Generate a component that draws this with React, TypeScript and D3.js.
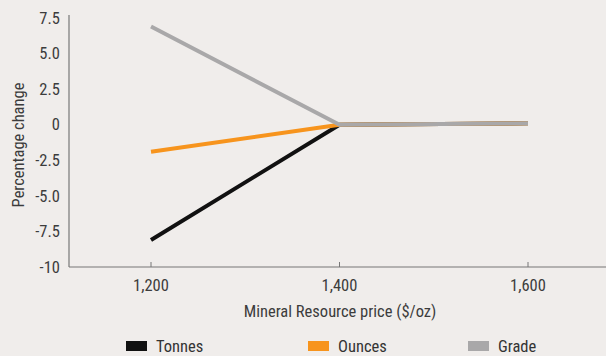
import React from "react";
import * as d3 from "d3";

const prices = [1200, 1400, 1600];
const tonnes = [-8.1, 0, 0.1];
const ounces = [-1.9, 0, 0.1];
const grade = [6.9, 0, 0.1];
const yTicks = [7.5, 5.0, 2.5, 0, -2.5, -5.0, -7.5, -10];
const yTickLabels = ["7.5", "5.0", "2.5", "0", "-2.5", "-5.0", "-7.5", "-10"];
const xTicks = [1200, 1400, 1600];
const xTickLabels = ["1,200", "1,400", "1,600"];

const seriesNames = ["Tonnes", "Ounces", "Grade"];
const seriesColors = ["#111111", "#f7941d", "#a9a8a9"];

const W = 606;
const H = 356;
const FONT = "'Liberation Sans Narrow', 'Roboto Condensed', 'Arial Narrow', 'Liberation Sans', sans-serif";
const FS = 16.5;

export default function App() {
  const x = d3.scaleLinear().domain([1200, 1600]).range([151, 528]);
  const y = d3.scaleLinear().domain([-10, 7.5]).range([267, 18]);
  const axisLeft = 69;
  const axisBottom = y(-10);

  const line = d3
    .line<[number, number]>()
    .x((d) => x(d[0]))
    .y((d) => y(d[1]));

  const series = [tonnes, ounces, grade];
  const legendX = [126, 308, 468];

  return (
    <svg
      width={W}
      height={H}
      style={{ position: "absolute", left: 0, top: 0, background: "#f0edeb" }}
    >
      <rect x={0} y={0} width={W} height={H} fill="#f0edeb" />
      <line x1={axisLeft} x2={axisLeft} y1={15} y2={axisBottom} stroke="#777" strokeWidth={1.2} />
      <line x1={axisLeft} x2={W} y1={axisBottom} y2={axisBottom} stroke="#777" strokeWidth={1.2} />
      {yTicks.map((t, i) => (
        <text
          key={t}
          x={60}
          y={y(t)}
          dy="0.35em"
          textAnchor="end"
          fontFamily={FONT}
          fontSize={FS}
          fill="#3c3c3c"
        >
          {yTickLabels[i]}
        </text>
      ))}
      {xTicks.map((t, i) => (
        <g key={t}>
          <line x1={x(t)} x2={x(t)} y1={axisBottom - 5} y2={axisBottom} stroke="#777" strokeWidth={1} />
          <text
            x={x(t)}
            y={axisBottom + 18}
            dy="0.35em"
            textAnchor="middle"
            fontFamily={FONT}
            fontSize={FS}
            fill="#3c3c3c"
          >
            {xTickLabels[i]}
          </text>
        </g>
      ))}
      <text
        x={340}
        y={311}
        dy="0.35em"
        textAnchor="middle"
        fontFamily={FONT}
        fontSize={FS}
        fill="#3c3c3c"
      >
        Mineral Resource price ($/oz)
      </text>
      <text
        transform={`translate(18,145) rotate(-90)`}
        dy="0.35em"
        textAnchor="middle"
        fontFamily={FONT}
        fontSize={FS}
        fill="#3c3c3c"
      >
        Percentage change
      </text>
      {series.map((s, i) => (
        <path
          key={seriesNames[i]}
          d={line(prices.map((p, j) => [p, s[j]] as [number, number])) || ""}
          fill="none"
          stroke={seriesColors[i]}
          strokeWidth={4}
          strokeLinecap="butt"
          strokeLinejoin="round"
        />
      ))}
      {seriesNames.map((n, i) => (
        <g key={n}>
          <rect x={legendX[i]} y={341} width={21} height={10} fill={seriesColors[i]} />
          <text
            x={legendX[i] + 30}
            y={346}
            dy="0.35em"
            fontFamily={FONT}
            fontSize={FS}
            fill="#333"
          >
            {n}
          </text>
        </g>
      ))}
    </svg>
  );
}
